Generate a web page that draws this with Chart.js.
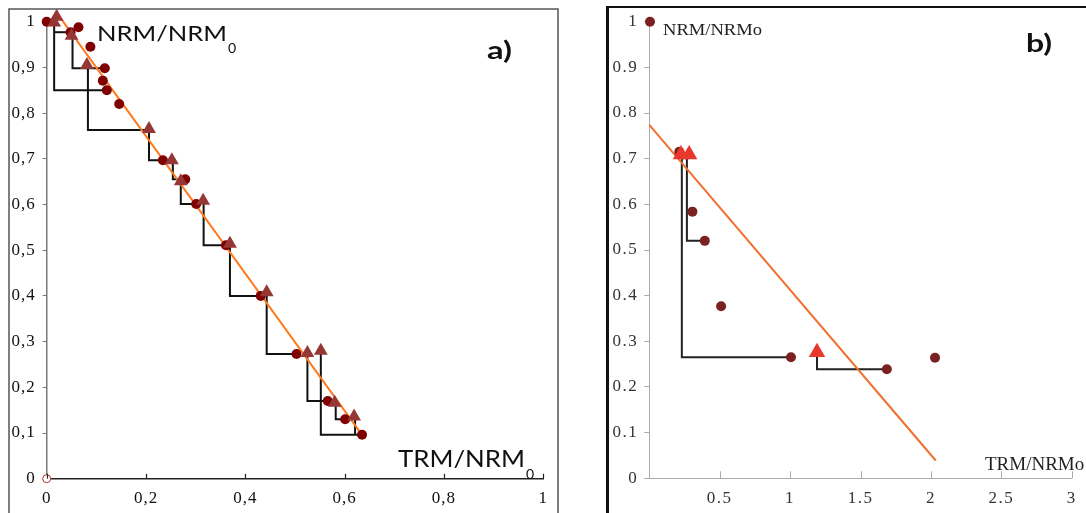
<!DOCTYPE html>
<html>
<head>
<meta charset="utf-8">
<script src="https://cdn.jsdelivr.net/npm/chart.js@4.4.0/dist/chart.umd.min.js"></script>
<style>
  html, body { margin: 0; padding: 0; background: #fff; }
  #page { position: relative; width: 1086px; height: 513px; overflow: hidden; }
  .panel { position: absolute; top: 0; height: 513px; }
  #wrapA { left: 0; width: 600px; }
  #wrapB { left: 560px; width: 526px; }
</style>
</head>
<body>
<div id="page">
  <div class="panel" id="wrapA"><canvas id="chartA"></canvas></div>
  <div class="panel" id="wrapB"><canvas id="chartB"></canvas></div>
</div>
<script>
// ---- panel a) : NRM/NRM0 vs TRM/NRM0 ----
const circA_x = [0, 0.048, 0.064, 0.088, 0.117, 0.113, 0.121, 0.146, 0.234, 0.279, 0.301, 0.361, 0.431, 0.503, 0.566, 0.601, 0.635];
const circA_y = [1.0, 0.977, 0.988, 0.945, 0.898, 0.871, 0.850, 0.820, 0.697, 0.655, 0.601, 0.511, 0.400, 0.273, 0.170, 0.130, 0.096];
const triA_x = [0.020, 0.015, 0.050, 0.081, 0.206, 0.252, 0.270, 0.315, 0.369, 0.443, 0.525, 0.552, 0.580, 0.619];
const triA_y = [1.011, 0.998, 0.969, 0.905, 0.765, 0.697, 0.651, 0.608, 0.514, 0.408, 0.275, 0.280, 0.166, 0.136];
const fitA_x = [0.020, 0.635];
const fitA_y = [1.020, 0.096];
const stepsA = [
  [[0.015, 1.0], [0.015, 0.850], [0.121, 0.850]],
  [[0.015, 0.977], [0.048, 0.977]],
  [[0.052, 0.969], [0.052, 0.898], [0.117, 0.898]],
  [[0.083, 0.905], [0.083, 0.763], [0.206, 0.763], [0.206, 0.697], [0.234, 0.697]],
  [[0.254, 0.694], [0.254, 0.655], [0.279, 0.655]],
  [[0.270, 0.650], [0.270, 0.601], [0.301, 0.601]],
  [[0.316, 0.606], [0.316, 0.511], [0.361, 0.511]],
  [[0.369, 0.511], [0.369, 0.400], [0.431, 0.400]],
  [[0.443, 0.406], [0.443, 0.273], [0.503, 0.273]],
  [[0.525, 0.274], [0.525, 0.170], [0.566, 0.170]],
  [[0.552, 0.278], [0.552, 0.096], [0.635, 0.096]],
  [[0.582, 0.165], [0.582, 0.130], [0.601, 0.130]],
  [[0.621, 0.136], [0.621, 0.096]]
];
const originA = [[0, 0]];
const xTicksA = [0, 0.2, 0.4, 0.6, 0.8, 1];
const xLabelsA = ['0', '0,2', '0,4', '0,6', '0,8', '1'];
const yTicksA = [0, 0.1, 0.2, 0.3, 0.4, 0.5, 0.6, 0.7, 0.8, 0.9, 1];
const yLabelsA = ['0', '0,1', '0,2', '0,3', '0,4', '0,5', '0,6', '0,7', '0,8', '0,9', '1'];

// ---- panel b) ----
const circB_x = [0.005, 0.213, 0.306, 0.394, 0.510, 1.006, 1.687, 2.029];
const circB_y = [1.0, 0.715, 0.584, 0.520, 0.377, 0.265, 0.239, 0.264];
const triB_x = [0.225, 0.283, 1.191];
const triB_y = [0.709, 0.709, 0.276];
const fitB_x = [0, 2.034];
const fitB_y = [0.774, 0.039];
const stepsB = [
  [[0.231, 0.709], [0.231, 0.265], [1.006, 0.265]],
  [[0.267, 0.709], [0.267, 0.520], [0.394, 0.520]],
  [[1.191, 0.270], [1.191, 0.239], [1.687, 0.239]]
];
const xTicksB = [0.5, 1, 1.5, 2, 2.5, 3];
const xLabelsB = ['0.5', '1', '1.5', '2', '2.5', '3'];
const yTicksB = [0, 0.1, 0.2, 0.3, 0.4, 0.5, 0.6, 0.7, 0.8, 0.9, 1];
const yLabelsB = ['0', '0.1', '0.2', '0.3', '0.4', '0.5', '0.6', '0.7', '0.8', '0.9', '1'];

const pts = (xs, ys) => xs.map((x, i) => ({ x: x, y: ys[i] }));
const pairs = (arr) => arr.map(p => ({ x: p[0], y: p[1] }));

function stepSets(steps, color) {
  return steps.map(s => ({
    data: pairs(s), showLine: true, pointRadius: 0, borderColor: color,
    borderWidth: 2, fill: false, clip: false, order: 4
  }));
}

function drawText(ctx, str, x, y, font, color, width) {
  ctx.save();
  ctx.font = font;
  ctx.fillStyle = color;
  ctx.textAlign = 'left';
  ctx.textBaseline = 'alphabetic';
  const w = ctx.measureText(str).width;
  const sx = width ? width / w : 1;
  ctx.translate(x, y);
  ctx.scale(sx, 1);
  ctx.fillText(str, 0, 0);
  ctx.restore();
  return x + w * sx;
}

function innerTicks(chart, len, color, width) {
  const ctx = chart.ctx, xs = chart.scales.x, b = chart.chartArea.bottom;
  ctx.save();
  ctx.strokeStyle = color;
  ctx.lineWidth = width;
  xs.ticks.forEach(t => {
    const px = Math.round(xs.getPixelForValue(t.value)) + 0.5;
    ctx.beginPath();
    ctx.moveTo(px, b);
    ctx.lineTo(px, b - len);
    ctx.stroke();
  });
  ctx.restore();
}

function fixedTicks(values) {
  return s => { s.ticks = values.map(v => ({ value: v })); };
}

// the tick digits in the picture are drawn wide, so space them a little
function spacing(px) {
  return {
    id: 'spacing',
    beforeDraw(chart) { if ('letterSpacing' in chart.ctx) chart.ctx.letterSpacing = px; },
    afterDraw(chart) { if ('letterSpacing' in chart.ctx) chart.ctx.letterSpacing = '0px'; }
  };
}

const serif = 'Liberation Serif';

// panel a
const decoA = {
  id: 'decoA',
  afterDraw(chart) {
    const ctx = chart.ctx;
    if ('letterSpacing' in ctx) ctx.letterSpacing = '0px';
    innerTicks(chart, 5, '#222', 1.2);
    // frame
    ctx.save();
    ctx.strokeStyle = '#555';
    ctx.lineWidth = 1.5;
    ctx.beginPath();
    ctx.moveTo(9, 520);
    ctx.lineTo(9, 9);
    ctx.lineTo(558, 9);
    ctx.lineTo(558, 520);
    ctx.stroke();
    ctx.restore();
    // labels
    let e = drawText(ctx, 'NRM/NRM', 97, 41, '22px Lato', '#111', 130);
    drawText(ctx, '0', e + 1, 53, '14px Lato', '#111');
    e = drawText(ctx, 'TRM/NRM', 398, 467, '24px Lato', '#111', 127);
    drawText(ctx, '0', e + 1, 479, '14px Lato', '#111');
    drawText(ctx, 'a)', 487, 59, 'bold 24px Lato', '#111', 25);
  }
};

new Chart(document.getElementById('chartA'), {
  type: 'scatter',
  data: {
    datasets: [
      { data: pts(triA_x, triA_y), pointStyle: 'triangle', pointRadius: 8, pointHoverRadius: 8,
        backgroundColor: '#953735', borderWidth: 0, clip: false, order: 1 },
      { data: pts(circA_x, circA_y), pointStyle: 'circle', pointRadius: 5, pointHoverRadius: 5,
        backgroundColor: '#7f0000', borderWidth: 0, clip: false, order: 2 },
      { data: pairs(originA), pointRadius: 4, backgroundColor: '#ffffff', borderColor: '#b03030',
        borderWidth: 1, clip: false, order: 2 },
      { data: pts(fitA_x, fitA_y), showLine: true, pointRadius: 0, borderColor: '#ff7a1e',
        borderWidth: 2, clip: false, order: 3 },
      ...stepSets(stepsA, '#111')
    ]
  },
  options: {
    responsive: true,
    maintainAspectRatio: false,
    animation: false,
    layout: { padding: { left: 0, top: 21.7, right: 56.7, bottom: 0 } },
    plugins: { legend: { display: false }, tooltip: { enabled: false } },
    scales: {
      x: {
        type: 'linear', min: 0, max: 1,
        afterBuildTicks: fixedTicks(xTicksA),
        afterFit: s => { s.height = 34.3; },
        ticks: { callback: (v) => xLabelsA[xTicksA.indexOf(v)], font: { family: serif, size: 17 },
          color: '#111', padding: 10, maxRotation: 0, autoSkip: false },
        grid: { drawOnChartArea: false, drawTicks: false },
        border: { color: '#222', width: 1.5 }
      },
      y: {
        type: 'linear', min: 0, max: 1,
        afterBuildTicks: fixedTicks(yTicksA),
        afterFit: s => { s.width = 46.7; },
        ticks: { callback: (v) => yLabelsA[yTicksA.indexOf(v)], font: { family: serif, size: 17 },
          color: '#111', padding: 7, autoSkip: false },
        grid: { drawOnChartArea: false, tickLength: 4, color: '#777' },
        border: { color: '#777', width: 1.5 }
      }
    }
  },
  plugins: [spacing('1px'), decoA]
});

// panel b  (canvas starts at page x = 560)
const offB = 560;
const decoB = {
  id: 'decoB',
  afterDraw(chart) {
    const ctx = chart.ctx;
    if ('letterSpacing' in ctx) ctx.letterSpacing = '0px';
    innerTicks(chart, 7, '#aaa', 1);
    drawText(ctx, 'NRM/NRMo', 663 - offB, 35, '17.5px "Liberation Serif"', '#222', 99);
    drawText(ctx, 'TRM/NRMo', 985 - offB, 470, '19px "Liberation Serif"', '#222');
    drawText(ctx, 'b)', 1026 - offB, 52, 'bold 24px Lato', '#111', 26);
    // frame
    ctx.save();
    ctx.strokeStyle = '#111';
    ctx.lineWidth = 2;
    ctx.beginPath();
    ctx.moveTo(608 - offB, 7);
    ctx.lineTo(1090 - offB, 7);
    ctx.stroke();
    ctx.lineWidth = 3;
    ctx.beginPath();
    ctx.moveTo(607.5 - offB, 6);
    ctx.lineTo(607.5 - offB, 520);
    ctx.stroke();
    ctx.restore();
  }
};

new Chart(document.getElementById('chartB'), {
  type: 'scatter',
  data: {
    datasets: [
      { data: pts(triB_x, triB_y), pointStyle: 'triangle', pointRadius: 9.5, pointHoverRadius: 9.5,
        backgroundColor: '#e8372c', borderWidth: 0, clip: false, order: 1 },
      { data: pts(circB_x, circB_y), pointStyle: 'circle', pointRadius: 5, pointHoverRadius: 5,
        backgroundColor: '#7a2222', borderWidth: 0, clip: false, order: 2 },
      { data: pts(fitB_x, fitB_y), showLine: true, pointRadius: 0, borderColor: '#f07030',
        borderWidth: 2, clip: false, order: 3 },
      ...stepSets(stepsB, '#222')
    ]
  },
  options: {
    responsive: true,
    maintainAspectRatio: false,
    animation: false,
    layout: { padding: { left: 0, top: 21.7, right: 5, bottom: 0 } },
    plugins: { legend: { display: false }, tooltip: { enabled: false } },
    scales: {
      x: {
        type: 'linear', min: 0, max: 3,
        afterBuildTicks: fixedTicks(xTicksB),
        afterFit: s => { s.height = 34.7; },
        ticks: { callback: (v) => xLabelsB[xTicksB.indexOf(v)], font: { family: serif, size: 17 },
          color: '#333', padding: 10, maxRotation: 0, autoSkip: false },
        grid: { drawOnChartArea: false, drawTicks: false },
        border: { color: '#aaa', width: 1 }
      },
      y: {
        type: 'linear', min: 0, max: 1,
        afterBuildTicks: fixedTicks(yTicksB),
        afterFit: s => { s.width = 89.3; },
        ticks: { callback: (v) => yLabelsB[yTicksB.indexOf(v)], font: { family: serif, size: 17 },
          color: '#333', padding: 6, autoSkip: false },
        grid: { drawOnChartArea: false, tickLength: 5, color: '#aaa' },
        border: { color: '#aaa', width: 1 }
      }
    }
  },
  plugins: [spacing('1.5px'), decoB]
});
</script>
</body>
</html>
